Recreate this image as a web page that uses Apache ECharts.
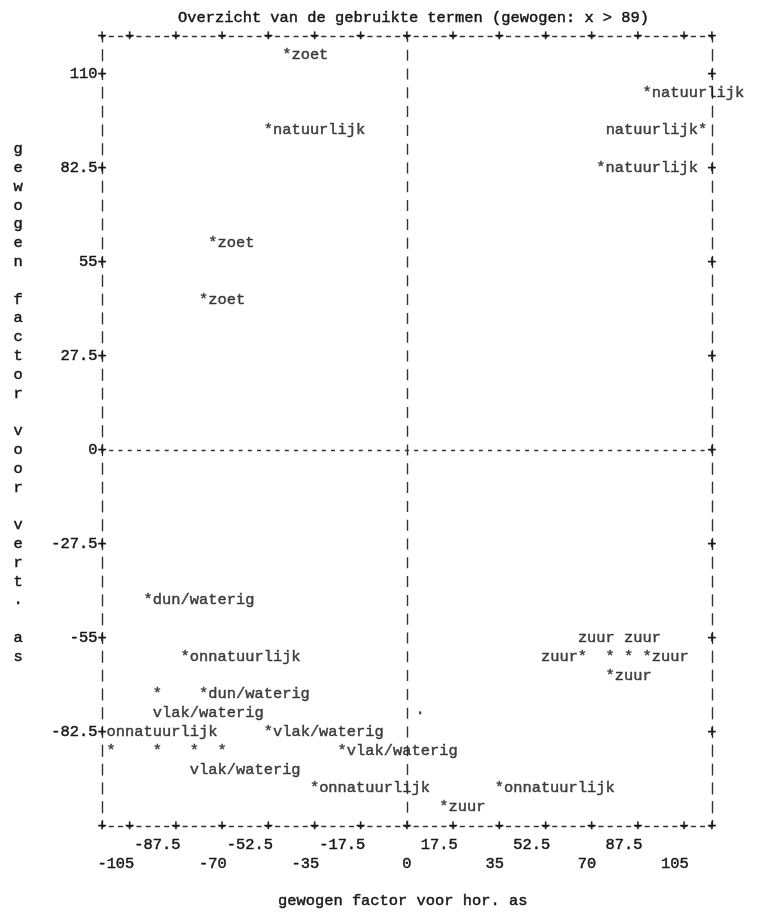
<!DOCTYPE html>
<html><head><meta charset="utf-8">
<script src="https://cdn.jsdelivr.net/npm/echarts@6/dist/echarts.min.js"></script>
<style>html,body{margin:0;padding:0;background:#fff}#c{width:764px;height:912px}</style>
</head><body><div id="c"></div>
<script>
// ---- data ----
const titleText = 'Overzicht van de gebruikte termen (gewogen: x > 89)';
const xAxisName = 'gewogen factor voor hor. as';
const yAxisName = 'gewogen factor voor vert. as';
const xTickValues = [-105, -87.5, -70, -52.5, -35, -17.5, 0, 17.5, 35, 52.5, 70, 87.5, 105];
const xTickLabels = ['-105', '-87.5', '-70', '-52.5', '-35', '-17.5', '0', '17.5', '35', '52.5', '70', '87.5', '105'];
const yTickValues = [-82.5, -55, -27.5, 0, 27.5, 55, 82.5, 110];
const yTickLabels = ['-82.5', '-55', '-27.5', '0', '27.5', '55', '82.5', '110'];
const xRange = [-115.5, 115.5];
const yRange = [-110, 121];
const termX = [-45.5, -52.5, -73.5, -77, 91, 112, 73.5,
  -98, -84, -94.5, -77, -52.5, -112, -94.5, -80.5, -70, -24.5, -35,
  66.5, 77, 84, 91, 77, 35, 14, 5];
const termY = [115.5, 93.5, 60.5, 44, 104.5, 93.5, 82.5,
  -44, -60.5, -71.5, -71.5, -82.5, -88, -88, -88, -88, -88, -99,
  -60.5, -60.5, -60.5, -60.5, -66, -99, -104.5, -77];
const termNames = ['zoet', 'natuurlijk', 'zoet', 'zoet', 'natuurlijk', 'natuurlijk', 'natuurlijk',
  'dun/waterig', 'onnatuurlijk', 'vlak/waterig', 'dun/waterig', 'vlak/waterig', 'onnatuurlijk', '', 'vlak/waterig', '', 'vlak/waterig', 'onnatuurlijk',
  'zuur', 'zuur', 'zuur', 'zuur', 'zuur', 'onnatuurlijk', 'zuur', ''];
// label placement (typewriter style): R = right of *, L = left of *, AL/AR = line above, BR = line below, N = none, D = dot
const labelSides = ['R', 'R', 'R', 'R', 'R', 'L', 'R',
  'R', 'R', 'BR', 'R', 'R', 'AR', 'N', 'BR', 'N', 'R', 'R',
  'L', 'AL', 'AR', 'R', 'R', 'R', 'R', 'D'];

// ---- style ----
const FONT = 'Liberation Mono';
const FS = 15.4;
const CW = FS * 0.6;     // char width
const H = CW / 2;
const RH = 18.8;         // row height
const INK = '#161616';
const LINE = '#333333';
const HDASH = [4, CW - 4];
const VDASH = [11, RH - 11];

const txt = { fontFamily: FONT, fontSize: FS, color: INK, lineHeight: RH, textBorderColor: INK, textBorderWidth: 0.45 };

function labelFor(side, name) {
  const base = Object.assign({ show: true, position: 'inside' }, txt);
  switch (side) {
    case 'R': return Object.assign(base, { formatter: '*' + name, align: 'left', verticalAlign: 'middle', offset: [-H, 0] });
    case 'L': return Object.assign(base, { formatter: name + '*', align: 'right', verticalAlign: 'middle', offset: [H, 0] });
    case 'AL': return Object.assign(base, { formatter: name + '\n*', align: 'right', verticalAlign: 'bottom', offset: [H, RH / 2] });
    case 'AR': return Object.assign(base, { formatter: name + '\n*', align: 'left', verticalAlign: 'bottom', offset: [-H, RH / 2] });
    case 'BR': return Object.assign(base, { formatter: '*\n' + name, align: 'left', verticalAlign: 'top', offset: [-H, -RH / 2] });
    case 'D': return Object.assign(base, { formatter: '·', align: 'center', verticalAlign: 'middle', offset: [0, 0] });
    default: return Object.assign(base, { formatter: '*', align: 'center', verticalAlign: 'middle', offset: [0, 0] });
  }
}

const points = termX.map((x, i) => ({
  value: [x, termY[i]],
  name: termNames[i],
  label: labelFor(labelSides[i], termNames[i])
}));

const plusTicksX = [xRange[0]].concat(xTickValues, [xRange[1]]);
const plusLabel = Object.assign({ show: true, formatter: () => '+', margin: 0, showMinLabel: true, showMaxLabel: true, hideOverlap: false }, txt);
const xLabelFmt = (v) => {
  const i = xTickValues.findIndex(t => Math.abs(t - v) < 1e-6);
  return i < 0 ? '' : xTickLabels[i];
};
const xRow1 = xTickValues.filter((v, i) => i % 2 === 1);
const xRow2 = xTickValues.filter((v, i) => i % 2 === 0);

function numberAxis(values, margin) {
  return { // bottom numbers, typewriter right-aligned on tick column (axis shifted half a column)
    type: 'value', position: 'bottom', min: xRange[0] - 1.75, max: xRange[1] - 1.75,
    axisLine: { show: false, onZero: false }, axisTick: { show: false }, splitLine: { show: false },
    axisLabel: Object.assign({
      show: true, customValues: values, margin: margin, align: 'right', verticalAlign: 'top',
      showMinLabel: true, showMaxLabel: true, hideOverlap: false, formatter: xLabelFmt
    }, txt)
  };
}

const chart = echarts.init(document.getElementById('c'), null, { renderer: 'canvas' });
const gridLeft = 102, gridTop = 36.4, gridW = 66 * CW, gridH = 42 * RH;

chart.setOption({
  backgroundColor: '#ffffff',
  animation: false,
  title: [
    { text: titleText, left: 178, top: 17.6 - RH / 2, padding: 0, textStyle: Object.assign({ fontWeight: 'normal' }, txt) },
    { text: xAxisName, left: 278, top: 901.2 - RH / 2, padding: 0, textStyle: Object.assign({ fontWeight: 'normal' }, txt) },
    { text: yAxisName.split('').join('\n'), left: 18 - H, top: 149.2 - RH / 2, padding: 0, textStyle: Object.assign({ fontWeight: 'normal' }, txt) }
  ],
  grid: { left: gridLeft, top: gridTop, width: gridW, height: gridH, containLabel: false },
  xAxis: [
    { // bottom frame with '+' marks
      type: 'value', position: 'bottom', min: xRange[0], max: xRange[1],
      axisLine: { show: true, onZero: false, lineStyle: { color: LINE, width: 1.4, type: HDASH, dashOffset: 2 } },
      axisTick: { show: false }, splitLine: { show: false },
      axisLabel: Object.assign({}, plusLabel, { customValues: plusTicksX, verticalAlign: 'middle', align: 'center' })
    },
    numberAxis(xRow1, RH / 2),
    numberAxis(xRow2, RH * 1.5),
    { // top frame
      type: 'value', position: 'top', min: xRange[0], max: xRange[1],
      axisLine: { show: true, onZero: false, lineStyle: { color: LINE, width: 1.4, type: HDASH, dashOffset: 2 } },
      axisTick: { show: false }, splitLine: { show: false },
      axisLabel: Object.assign({}, plusLabel, { customValues: plusTicksX, verticalAlign: 'middle', align: 'center' })
    }
  ],
  yAxis: [
    { // left frame with labels like "110+"
      type: 'value', position: 'left', min: yRange[0], max: yRange[1],
      axisLine: { show: true, onZero: false, lineStyle: { color: LINE, width: 1.4, type: VDASH, dashOffset: 5.5 } },
      axisTick: { show: false }, splitLine: { show: false },
      axisLabel: Object.assign({
        show: true, customValues: yTickValues, margin: -H, align: 'right', verticalAlign: 'middle',
        showMinLabel: true, showMaxLabel: true, hideOverlap: false,
        formatter: (v) => {
          const i = yTickValues.findIndex(t => Math.abs(t - v) < 1e-6);
          return i < 0 ? '' : yTickLabels[i] + '+';
        }
      }, txt)
    },
    { // right frame
      type: 'value', position: 'right', min: yRange[0], max: yRange[1],
      axisLine: { show: true, onZero: false, lineStyle: { color: LINE, width: 1.4, type: VDASH, dashOffset: 5.5 } },
      axisTick: { show: false }, splitLine: { show: false },
      axisLabel: Object.assign({}, plusLabel, { customValues: yTickValues, align: 'center', verticalAlign: 'middle' })
    }
  ],
  series: [{
    type: 'scatter',
    xAxisIndex: 0, yAxisIndex: 0,
    symbolSize: 1,
    itemStyle: { color: 'rgba(0,0,0,0)' },
    data: points,
    markLine: {
      silent: true, symbol: 'none', label: { show: false },
      data: [
        { xAxis: 0, lineStyle: { color: LINE, width: 1.4, type: VDASH, dashOffset: 5.5 } },
        { yAxis: 0, lineStyle: { color: LINE, width: 1.4, type: HDASH, dashOffset: 2 } }
      ]
    }
  }]
});
</script></body></html>
